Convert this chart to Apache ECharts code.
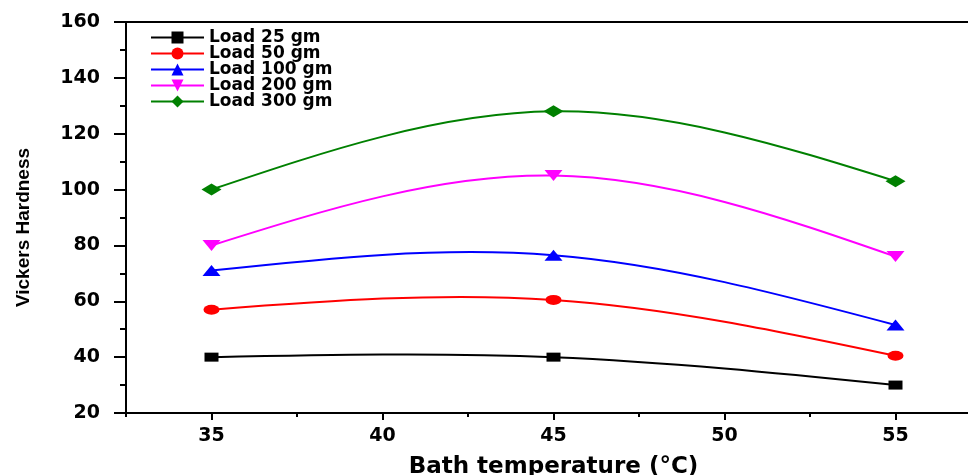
<!DOCTYPE html>
<html>
<head>
<meta charset="utf-8">
<script src="https://cdn.jsdelivr.net/npm/echarts@6/dist/echarts.min.js"></script>
<style>
  html, body { margin: 0; padding: 0; background: #fff; }
  #chart { width: 968px; height: 475px; }
</style>
</head>
<body>
<div id="chart"></div>
<script>
// bath temperature (°C)
const temps = [35, 45, 55];

// Vickers hardness per load
const load25 = [40, 40, 30];
const load50 = [57, 60.5, 40.5];
const load100 = [71, 76.5, 51.5];
const load200 = [80, 105, 76];
const load300 = [100, 128, 103];

const seriesNames = ['Load 25 gm', 'Load 50 gm', 'Load 100 gm', 'Load 200 gm', 'Load 300 gm'];
const seriesColors = ['#000000', '#ff0000', '#0000ff', '#ff00ff', '#008000'];

// axis ticks
const xMajor = [35, 40, 45, 50, 55];
const xMinor = [32.5, 37.5, 42.5, 47.5, 52.5, 57.5];
const yTicks = [20, 40, 60, 80, 100, 120, 140, 160];

const tickFont = { color: '#000', fontFamily: 'DejaVu Sans', fontWeight: 'bold', fontSize: 19 };

const chart = echarts.init(document.getElementById('chart'));

const toPoints = (vals) => temps.map((t, i) => [t, vals[i]]);

// natural cubic spline slopes at each knot (like the original plot's spline)
const splineSlopes = (xs, ys) => {
  const n = xs.length;
  const h = [];
  for (let i = 0; i < n - 1; i++) h.push(xs[i + 1] - xs[i]);
  const M = new Array(n).fill(0);
  if (n > 2) {
    // tridiagonal system for second derivatives, natural ends
    const a = [], b = [], c = [], d = [];
    for (let i = 1; i < n - 1; i++) {
      a.push(h[i - 1]);
      b.push(2 * (h[i - 1] + h[i]));
      c.push(h[i]);
      d.push(6 * ((ys[i + 1] - ys[i]) / h[i] - (ys[i] - ys[i - 1]) / h[i - 1]));
    }
    const m = b.length;
    for (let i = 1; i < m; i++) {
      const w = a[i] / b[i - 1];
      b[i] -= w * c[i - 1];
      d[i] -= w * d[i - 1];
    }
    const sol = new Array(m);
    sol[m - 1] = d[m - 1] / b[m - 1];
    for (let i = m - 2; i >= 0; i--) sol[i] = (d[i] - c[i] * sol[i + 1]) / b[i];
    for (let i = 0; i < m; i++) M[i + 1] = sol[i];
  }
  const s = [];
  for (let i = 0; i < n; i++) {
    if (i < n - 1) {
      s.push((ys[i + 1] - ys[i]) / h[i] - h[i] * (2 * M[i] + M[i + 1]) / 6);
    } else {
      s.push((ys[i] - ys[i - 1]) / h[i - 1] + h[i - 1] * (M[i - 1] + 2 * M[i]) / 6);
    }
  }
  return s;
};

const makeCurve = (vals, color) => ({
  type: 'custom',
  data: toPoints(vals),
  z: 2,
  silent: true,
  renderItem: (params, api) => {
    if (params.dataIndex !== 0) return null;
    const s = splineSlopes(temps, vals);
    const p = api.coord([temps[0], vals[0]]);
    let d = 'M' + p[0] + ' ' + p[1];
    for (let i = 0; i < temps.length - 1; i++) {
      const dx = (temps[i + 1] - temps[i]) / 3;
      const c1 = api.coord([temps[i] + dx, vals[i] + s[i] * dx]);
      const c2 = api.coord([temps[i + 1] - dx, vals[i + 1] - s[i + 1] * dx]);
      const e = api.coord([temps[i + 1], vals[i + 1]]);
      d += ' C' + c1[0] + ' ' + c1[1] + ' ' + c2[0] + ' ' + c2[1] + ' ' + e[0] + ' ' + e[1];
    }
    return {
      type: 'path',
      shape: { pathData: d },
      style: { fill: null, stroke: color, lineWidth: 2 }
    };
  }
});

const makeMarkers = (name, vals, color, symbol, size) => ({
  name: name,
  type: 'line',
  data: toPoints(vals),
  symbol: symbol,
  symbolSize: size,
  showAllSymbol: true,
  lineStyle: { color: color, width: 2, opacity: 0 },
  itemStyle: { color: color },
  z: 3
});

const option = {
  animation: false,
  grid: {
    left: 126,
    top: 22,
    right: -13,
    bottom: 62,
    outerBoundsMode: 'none',
    containLabel: false,
    show: true,
    borderColor: '#000',
    borderWidth: 2
  },
  legend: {
    orient: 'vertical',
    left: 145,
    top: 24,
    itemWidth: 53,
    itemHeight: 15,
    itemGap: -1,
    lineStyle: { width: 2, opacity: 1 },
    textStyle: { color: '#000', fontFamily: 'DejaVu Sans', fontWeight: 'bold', fontSize: 17, lineHeight: 16 },
    data: seriesNames
  },
  xAxis: [
    {
      type: 'value',
      position: 'bottom',
      min: 32.5,
      max: 57.5,
      name: 'Bath temperature (°C)',
      nameLocation: 'middle',
      nameGap: 43,
      nameTextStyle: { fontFamily: 'DejaVu Sans', fontWeight: 'bold', fontSize: 23, color: '#000' },
      axisLine: { lineStyle: { color: '#000', width: 2 } },
      axisTick: { customValues: xMajor, length: 7, lineStyle: { color: '#000', width: 2 } },
      axisLabel: { customValues: xMajor, margin: 14, ...tickFont },
      splitLine: { show: false }
    },
    {
      type: 'value',
      position: 'bottom',
      min: 32.5,
      max: 57.5,
      axisLine: { show: false },
      axisTick: { customValues: xMinor, length: 4, lineStyle: { color: '#000', width: 2 } },
      axisLabel: { show: false },
      splitLine: { show: false }
    }
  ],
  yAxis: {
    type: 'value',
    min: 20,
    max: 160,
    interval: 20,
    name: 'Vickers Hardness',
    nameLocation: 'middle',
    nameGap: 93,
    nameTextStyle: {
      color: '#000', fontFamily: 'Liberation Sans', fontWeight: 'bold', fontSize: 19,
      padding: [0, 20, 0, 0]
    },
    axisLine: { show: true, lineStyle: { color: '#000', width: 2 } },
    axisTick: { show: true, length: 12, lineStyle: { color: '#000', width: 2 } },
    minorTick: { show: true, splitNumber: 2, length: 6, lineStyle: { color: '#000', width: 2 } },
    axisLabel: {
      margin: 26,
      ...tickFont,
      formatter: (v) => (yTicks.indexOf(v) >= 0 ? String(v) : '')
    },
    splitLine: { show: false }
  },
  series: [
    makeCurve(load25, seriesColors[0]),
    makeCurve(load50, seriesColors[1]),
    makeCurve(load100, seriesColors[2]),
    makeCurve(load200, seriesColors[3]),
    makeCurve(load300, seriesColors[4]),
    makeMarkers(seriesNames[0], load25, seriesColors[0], 'rect', [14, 9]),
    makeMarkers(seriesNames[1], load50, seriesColors[1], 'circle', [16, 10]),
    makeMarkers(seriesNames[2], load100, seriesColors[2], 'triangle', [18, 11]),
    makeMarkers(seriesNames[3], load200, seriesColors[3], 'path://M0,0 L10,0 L5,8 Z', [18, 11]),
    makeMarkers(seriesNames[4], load300, seriesColors[4], 'diamond', [20, 12])
  ]
};

chart.setOption(option);
</script>
</body>
</html>
